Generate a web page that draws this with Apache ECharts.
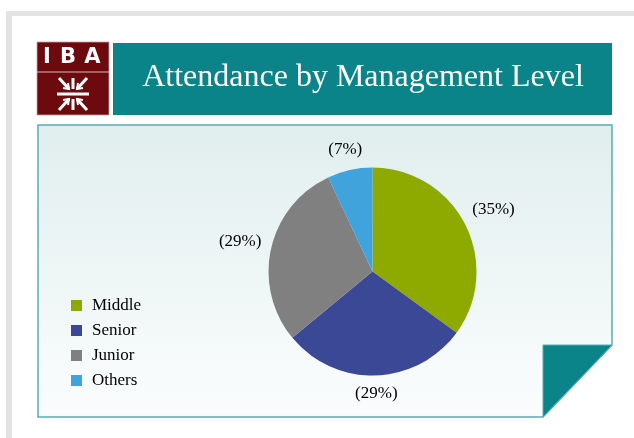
<!DOCTYPE html>
<html>
<head>
<meta charset="utf-8">
<script src="https://cdn.jsdelivr.net/npm/echarts@6/dist/echarts.min.js"></script>
<style>
html,body{margin:0;padding:0;background:#fff;}
#c{width:634px;height:438px;}
</style>
</head>
<body>
<div id="c"></div>
<script>
var titleText = 'Attendance by Management Level';
var categories = ['Middle', 'Senior', 'Junior', 'Others'];
var values = [35, 29, 29, 7];
var colors = ['#8eaa00', '#3a4896', '#808080', '#41a3db'];

var SERIF = '"Liberation Serif", "DejaVu Serif", serif';
var TEAL = '#0b8489';
var MAROON = '#6d0a0d';

var chart = echarts.init(document.getElementById('c'), null, {renderer: 'canvas'});

var pieData = categories.map(function (c, i) {
  return {name: c, value: values[i], itemStyle: {color: colors[i]}};
});

var LABEL_GAP = 9;

var option = {
  backgroundColor: '#ffffff',
  animation: false,
  graphic: [
    // outer gray frame
    {type: 'rect', shape: {x: 6, y: 11, width: 628, height: 5}, style: {fill: '#e3e3e3'}},
    {type: 'rect', shape: {x: 6, y: 11, width: 6, height: 427}, style: {fill: '#e3e3e3'}},
    // logo
    {type: 'rect', shape: {x: 37, y: 42, width: 72, height: 73}, style: {fill: MAROON, stroke: '#c9a0a2', lineWidth: 0.8}},
    {type: 'line', shape: {x1: 37, y1: 72, x2: 109, y2: 72}, style: {stroke: '#d8b8b9', lineWidth: 1}},
    {type: 'text', x: 47, y: 58, style: {text: 'I', fill: '#fff', font: 'bold 21px "DejaVu Sans", sans-serif', align: 'center', verticalAlign: 'middle'}},
    {type: 'text', x: 68, y: 58, style: {text: 'B', fill: '#fff', font: 'bold 21px "DejaVu Sans", sans-serif', align: 'center', verticalAlign: 'middle'}},
    {type: 'text', x: 92.5, y: 58, style: {text: 'A', fill: '#fff', font: 'bold 21px "DejaVu Sans", sans-serif', align: 'center', verticalAlign: 'middle'}},
    // logo emblem
    {type: 'group', x: 73, y: 94, children: [
      {type: 'line', shape: {x1: -16, y1: 0, x2: 16, y2: 0}, style: {stroke: '#fff', lineWidth: 3}},
      {type: 'line', shape: {x1: 0, y1: -16, x2: 0, y2: -5}, style: {stroke: '#fff', lineWidth: 3}},
      {type: 'line', shape: {x1: 0, y1: 5, x2: 0, y2: 16}, style: {stroke: '#fff', lineWidth: 3}},
      {type: 'line', shape: {x1: -14, y1: -16, x2: -4, y2: -5}, style: {stroke: '#fff', lineWidth: 3}},
      {type: 'line', shape: {x1: 14, y1: -16, x2: 4, y2: -5}, style: {stroke: '#fff', lineWidth: 3}},
      {type: 'line', shape: {x1: -14, y1: 16, x2: -4, y2: 5}, style: {stroke: '#fff', lineWidth: 3}},
      {type: 'line', shape: {x1: 14, y1: 16, x2: 4, y2: 5}, style: {stroke: '#fff', lineWidth: 3}},
      {type: 'polyline', shape: {points: [[-10, -6], [-4, -5], [-5, -11]]}, style: {stroke: '#fff', lineWidth: 2, fill: null}},
      {type: 'polyline', shape: {points: [[10, -6], [4, -5], [5, -11]]}, style: {stroke: '#fff', lineWidth: 2, fill: null}},
      {type: 'polyline', shape: {points: [[-10, 6], [-4, 5], [-5, 11]]}, style: {stroke: '#fff', lineWidth: 2, fill: null}},
      {type: 'polyline', shape: {points: [[10, 6], [4, 5], [5, 11]]}, style: {stroke: '#fff', lineWidth: 2, fill: null}}
    ]},
    // title bar
    {type: 'rect', shape: {x: 113, y: 43, width: 499, height: 72}, style: {fill: TEAL}},
    {type: 'text', x: 363, y: 78, style: {text: titleText, fill: '#fff', font: '32px ' + SERIF, align: 'center', verticalAlign: 'middle'}},
    // chart panel with folded corner
    {type: 'polygon', shape: {points: [[38, 125], [612, 125], [612, 345], [543, 417], [38, 417]]},
      style: {
        fill: new echarts.graphic.LinearGradient(0, 0, 0, 1, [
          {offset: 0, color: '#e1eeee'},
          {offset: 1, color: '#fbfdfd'}
        ]),
        stroke: '#56aeb1', lineWidth: 1.5
      }},
    {type: 'polygon', shape: {points: [[543, 345], [612, 345], [543, 417]]}, style: {fill: TEAL, stroke: '#56aeb1', lineWidth: 1}}
  ],
  legend: {
    orient: 'vertical',
    left: 66,
    top: 292,
    itemWidth: 11,
    itemHeight: 11,
    itemGap: 8,
    icon: 'rect',
    data: categories,
    textStyle: {fontFamily: SERIF, fontSize: 17, color: '#000', lineHeight: 17, padding: [0, 0, 0, 5]}
  },
  series: [{
    type: 'pie',
    center: [372.5, 271.5],
    radius: 104,
    startAngle: 90,
    clockwise: true,
    data: pieData,
    label: {
      show: true,
      position: 'outside',
      formatter: function (p) { return '(' + Math.round(p.percent) + '%)'; },
      fontFamily: SERIF,
      fontSize: 17,
      color: '#000'
    },
    labelLine: {show: true, length: 10, length2: 0, lineStyle: {opacity: 0}},
    labelLayout: function (p) {
      var pts = p.labelLinePoints;
      if (!pts) return {};
      var x1 = pts[0][0], y1 = pts[0][1], x2 = pts[1][0], y2 = pts[1][1];
      var len = Math.sqrt((x2 - x1) * (x2 - x1) + (y2 - y1) * (y2 - y1)) || 1;
      var dx = (x2 - x1) / len, dy = (y2 - y1) / len;
      var w = p.labelRect.width / 2, h = p.labelRect.height / 2;
      var t = LABEL_GAP + w * Math.abs(dx) + h * Math.abs(dy);
      return {x: x1 + dx * t, y: y1 + dy * t, align: 'center', verticalAlign: 'middle'};
    },
    emphasis: {disabled: true},
    itemStyle: {borderWidth: 0}
  }]
};
chart.setOption(option);
</script>
</body>
</html>
